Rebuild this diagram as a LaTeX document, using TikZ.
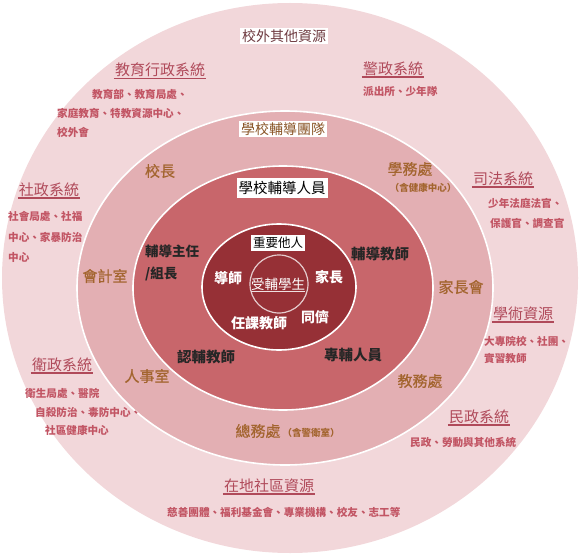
\documentclass[tikz,border=0pt]{standalone}
\usepackage{fontspec}
\newfontfamily\cjk{Noto Sans CJK TC}
\newfontfamily\cjkmed[FakeBold=0.6]{Noto Sans CJK TC}
\definecolor{ringA}{HTML}{F2D7DA}
\definecolor{ringB}{HTML}{E3AFB3}
\definecolor{ringC}{HTML}{C8666B}
\definecolor{ringD}{HTML}{963036}
\definecolor{headC}{HTML}{B04A5A}
\definecolor{descC}{HTML}{C25564}
\definecolor{brownC}{HTML}{A3652F}
\definecolor{teamC}{HTML}{8A5527}
\definecolor{outC}{HTML}{6E3A40}
\tikzset{
  ringline/.style={draw=white, line width=1.6pt},
  head/.style={font=\cjk\fontsize{15}{17}\selectfont, text=headC, inner sep=1pt},
  headline/.style={draw=headC, line width=1.4pt},
  desc/.style={font=\cjk\bfseries\fontsize{10.6}{12}\selectfont, text=descC, inner sep=0pt, anchor=west},
  boxlab/.style={fill=white, inner sep=2pt, font=\cjk\fontsize{14.5}{16}\selectfont},
  brn/.style={font=\cjkmed\fontsize{15}{17}\selectfont, text=brownC, inner sep=0pt},
  brnsmall/.style={font=\cjk\bfseries\fontsize{9.5}{12}\selectfont, text=brownC, inner sep=0pt},
  blk/.style={font=\cjk\bfseries\fontsize{14.5}{22}\selectfont, text=black!85, inner sep=0pt},
  wht/.style={font=\cjk\bfseries\fontsize{14}{17}\selectfont, text=white, inner sep=0pt},
}
\begin{document}
\begin{tikzpicture}[x=1pt, y=-1pt]
\useasboundingbox (0,0) rectangle (581,559);
% rings
\fill[ringA] (290,278) ellipse [x radius=288pt, y radius=275pt];
\filldraw[ringline, fill=ringB] (285,288) ellipse [x radius=208pt, y radius=177pt];
\filldraw[ringline, fill=ringC] (283,288) ellipse [x radius=150pt, y radius=122pt];
\filldraw[ringline, fill=ringD] (279,287) ellipse [x radius=77pt, y radius=63pt];
\filldraw[draw=white!75!ringD, line width=1.2pt, fill=ringD] (279,284) ellipse [x radius=29pt, y radius=29pt];

% outer label
\node[boxlab, text=outC, font=\cjk\fontsize{14}{16}\selectfont] (outer) at (284,36) {校外其他資源};

% outer systems
\node[head] (edu) at (160,70) {教育行政系統};
\draw[headline] (edu.south west) -- (edu.south east);
\node[desc] (edu1) at (92,94) {教育部、教育局處、};
\node[desc] (edu2) at (57,113) {家庭教育、特教資源中心、};
\node[desc] (edu3) at (57,132) {校外會};

\node[head] (pol) at (393,69) {警政系統};
\draw[headline] (pol.south west) -- (pol.south east);
\node[desc] (pol1) at (363,91) {派出所、少年隊};

\node[head] (soc) at (49,190) {社政系統};
\draw[headline] (soc.south west) -- (soc.south east);
\node[desc] (soc1) at (8,216) {社會局處、社福};
\node[desc] (soc2) at (8,237) {中心、家暴防治};
\node[desc] (soc3) at (8,257) {中心};

\node[head] (law) at (503,179) {司法系統};
\draw[headline] (law.south west) -- (law.south east);
\node[desc] (law1) at (488,203) {少年法庭法官、};
\node[desc] (law2) at (490,223) {保護官、調查官};

\node[head] (aca) at (523,314) {學術資源};
\draw[headline] (aca.south west) -- (aca.south east);
\node[desc] (aca1) at (484,341) {大專院校、社團、};
\node[desc] (aca2) at (484,358) {實習教師};

\node[head] (hea) at (62,365) {衛政系統};
\draw[headline] (hea.south west) -- (hea.south east);
\node[desc] (hea1) at (25,393) {衛生局處、醫院};
\node[desc] (hea2) at (35,412) {自殺防治、毒防中心、};
\node[desc] (hea3) at (45,430) {社區健康中心};

\node[head] (civ) at (479,417) {民政系統};
\draw[headline] (civ.south west) -- (civ.south east);
\node[desc] (civ1) at (410,442) {民政、勞動與其他系統};

\node[head] (com) at (269,486) {在地社區資源};
\draw[headline] (com.south west) -- (com.south east);
\node[desc] (com1) at (167,512) {慈善團體、福利基金會、專業機構、校友、志工等};

% ring 2
\node[boxlab, text=teamC, font=\cjk\fontsize{14}{16}\selectfont] (team) at (283,129) {學校輔導團隊};
\node[brn] (prin) at (160,171) {校長};
\node[brn] (stu) at (410,169) {學務處};
\node[brnsmall] (stu2) at (423,188) {（含健康中心）};
\node[brn] (acc) at (105,276) {會計室};
\node[brn] (par) at (461,287) {家長會};
\node[brn] (per) at (147,376) {人事室};
\node[brn] (aff) at (420,381) {教務處};
\node[brn] (gen) at (258,431) {總務處};
\node[brnsmall] (gen2) at (311,433) {（含警衛室）};

% ring 3
\node[boxlab, text=black, inner ysep=3.5pt] (staff) at (282,188) {學校輔導人員};
\node[blk, anchor=north west, align=left, font=\cjk\bfseries\fontsize{13.5}{22}\selectfont] (dir) at (145,245) {輔導主任\\/組長};
\node[blk] (cou) at (380,254) {輔導教師};
\node[blk] (vol) at (206,357) {認輔教師};
\node[blk] (pro) at (353,355) {專輔人員};

% ring 4
\node[boxlab, text=black, font=\cjk\fontsize{12.5}{15}\selectfont, inner sep=1.8pt] (sig) at (278,243) {重要他人};
\node[wht] (tut) at (228,278) {導師};
\node[wht] (pa) at (329,277) {家長};
\node[wht] (sub) at (259,323) {任課教師};
\node[wht] (peer) at (315,317) {同儕};
\node[wht, font=\cjk\fontsize{13.5}{17}\selectfont] (cli) at (278,284) {受輔學生};
\draw[white!85!ringD, line width=1.2pt] ([yshift=-1pt]cli.south west) -- ([yshift=-1pt]cli.south east);
\end{tikzpicture}
\end{document}
